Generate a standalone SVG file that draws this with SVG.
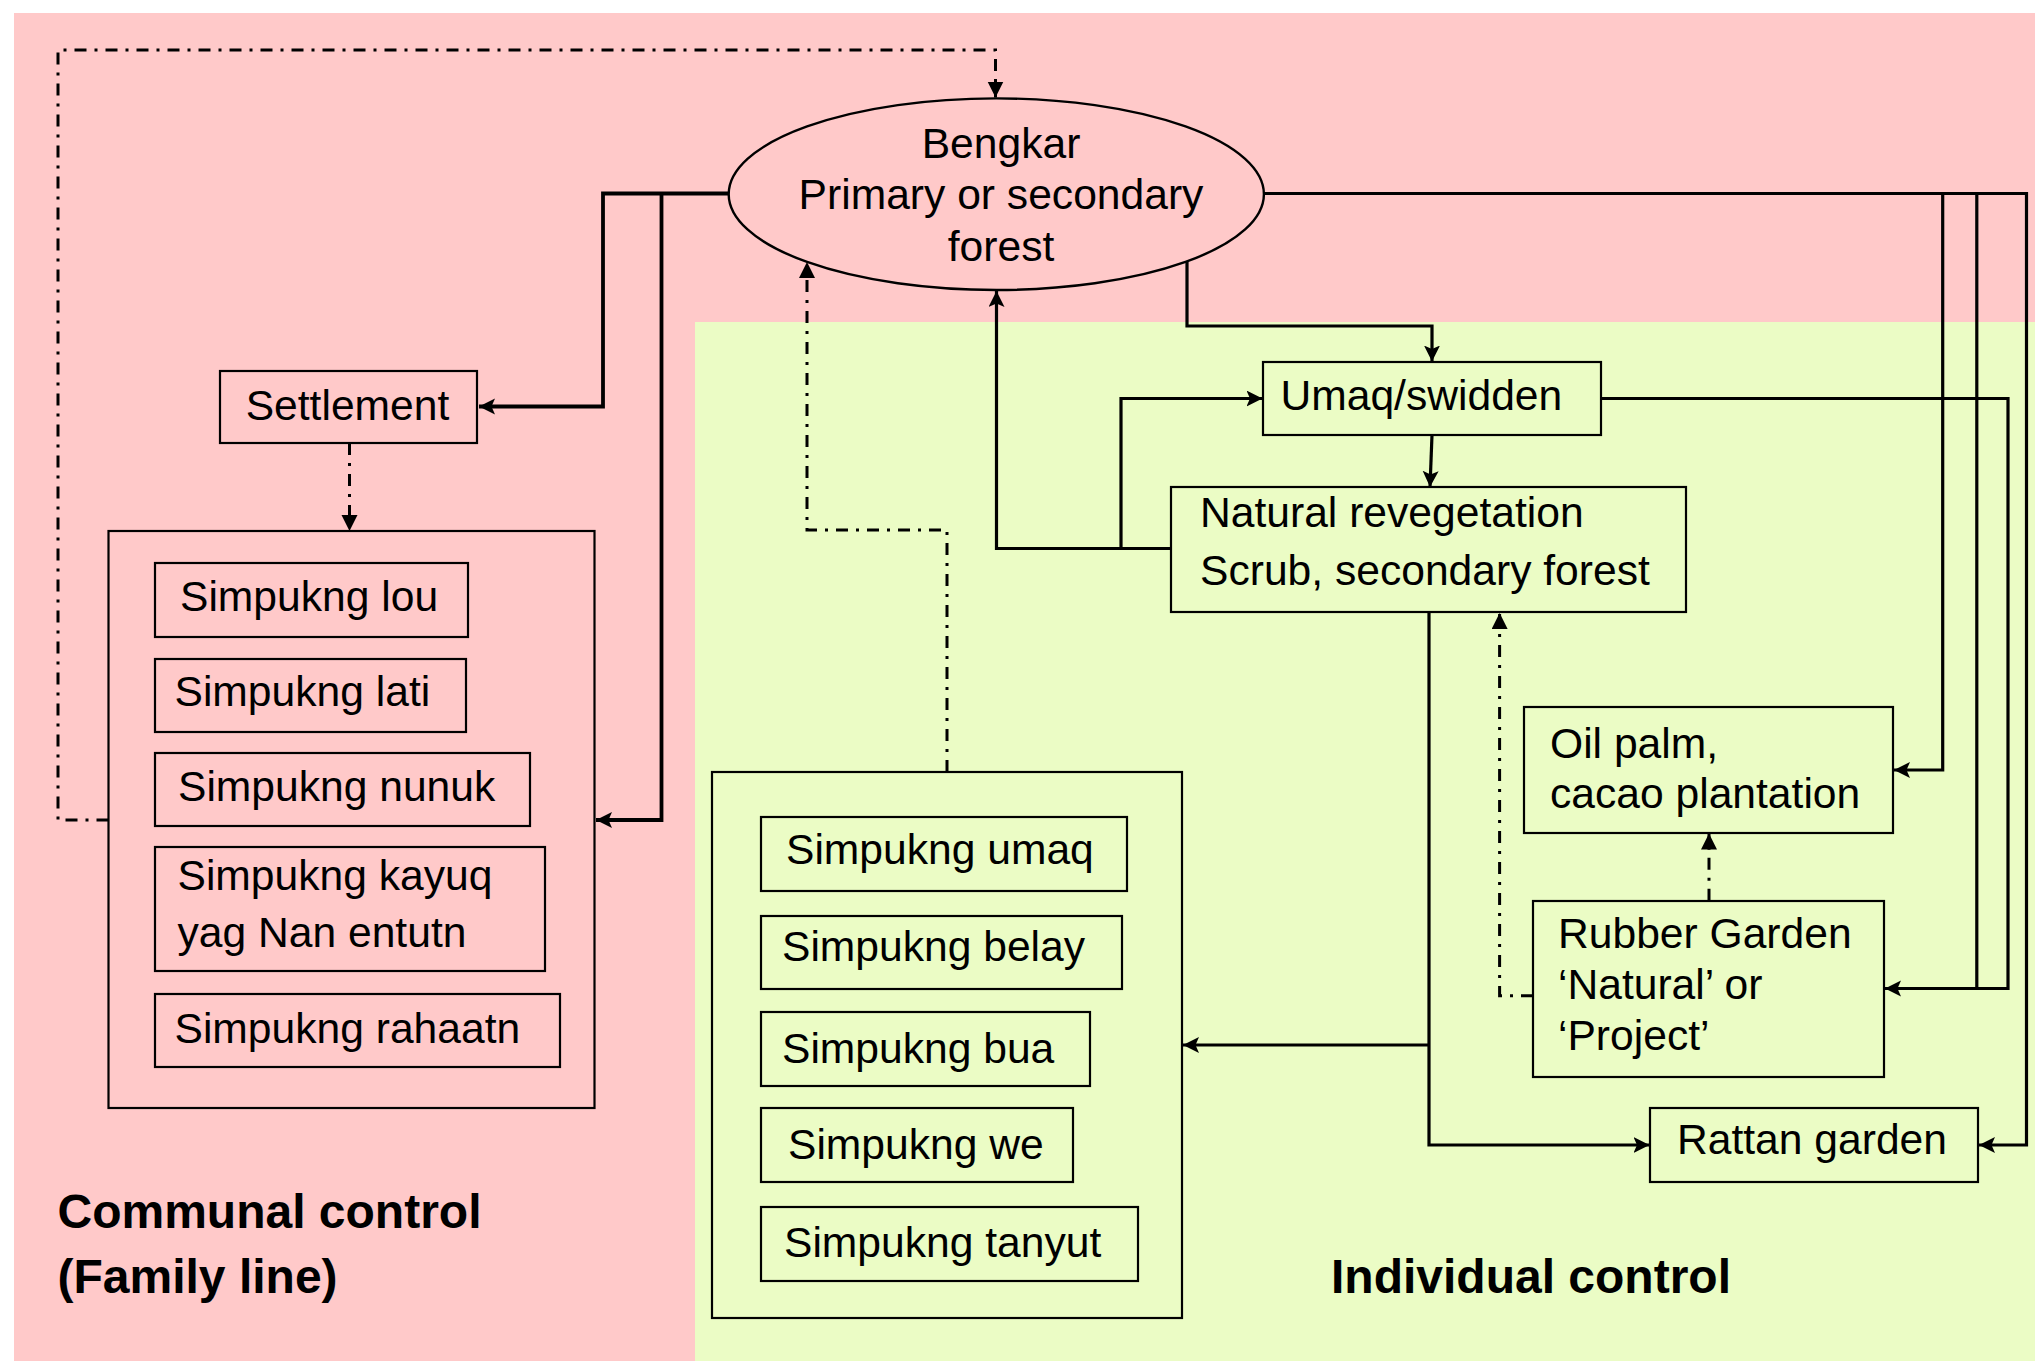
<svg xmlns="http://www.w3.org/2000/svg" width="2035" height="1361" viewBox="0 0 2035 1361">
<defs>
<style>
.bg-pink{fill:#FFC9C9}
.bg-green{fill:#EBFCC5}
.box{fill:none;stroke:#000;stroke-width:2.2}
.t{font-family:"Liberation Sans",Arial,Helvetica,sans-serif;font-size:42.6px;fill:#000}
.tb{font-family:"Liberation Sans",Arial,Helvetica,sans-serif;font-size:48px;font-weight:bold;fill:#000}
.c{fill:none;stroke:#000;stroke-width:3.2}
.c2{fill:none;stroke:#000;stroke-width:3.8}
.d{fill:none;stroke:#000;stroke-width:3;stroke-dasharray:12 8 3 8}
</style>
<marker id="arr" markerUnits="userSpaceOnUse" markerWidth="18" markerHeight="18" refX="16" refY="8" orient="auto">
<path d="M0,0 L16,8 L0,16 L3.5,8 z" fill="#000"/>
</marker>
<marker id="arrd" markerUnits="userSpaceOnUse" markerWidth="18" markerHeight="18" refX="16" refY="8" orient="auto">
<path d="M0,0 L16,8 L0,16 z" fill="#000"/>
</marker>
</defs>
<rect x="0" y="0" width="2035" height="1361" fill="#fff"/>
<rect class="bg-pink" x="14" y="13" width="2021" height="1348"/>
<rect class="bg-green" x="695" y="322" width="1340" height="1039"/>

<g id="connectors">
<path class="c2" d="M728.7,193.5 H603 V406.5 H479" marker-end="url(#arr)"/>
<path class="c2" d="M661.5,193.5 V820 H596" marker-end="url(#arr)"/>
<path class="d" d="M349.5,443 V531" marker-end="url(#arrd)"/>
<path class="d" d="M108.5,820 H58 V50 H995.5 V97.5" marker-end="url(#arrd)"/>
<path class="d" d="M947,772 V530 H807 V262" marker-end="url(#arrd)"/>
<path class="c" d="M1187,261.5 V326 H1432 V361.5" marker-end="url(#arr)"/>
<path class="c" d="M1432,435 L1430,487" marker-end="url(#arr)"/>
<path class="c" d="M1171,548.5 H996.5 V291" marker-end="url(#arr)"/>
<path class="c" d="M1121,548.5 V398.5 H1262.5" marker-end="url(#arr)"/>
<path class="c" d="M1264,193.5 H1942.7 V770 H1894" marker-end="url(#arr)"/>
<path class="c" d="M1976.8,193.5 V988.5"/>
<path class="c" d="M1600.7,398.5 H2008 V988.5 H1885" marker-end="url(#arr)"/>
<path class="c" d="M1942.7,193.5 H2026.5 V1145 H1979" marker-end="url(#arr)"/>
<path class="c" d="M1429,612 V1145 H1649.5" marker-end="url(#arr)"/>
<path class="c" d="M1429,1045 H1183" marker-end="url(#arr)"/>
<path class="d" d="M1709,900.7 V833.5" marker-end="url(#arrd)"/>
<path class="d" d="M1533,995.7 H1499.6 V613" marker-end="url(#arrd)"/>
</g>

<g id="bengkar">
<ellipse cx="996.3" cy="194.2" rx="267.6" ry="95.8" fill="none" stroke="#000" stroke-width="2.4"/>
<text class="t" x="1001" y="158" text-anchor="middle">Bengkar</text>
<text class="t" x="1001" y="209" text-anchor="middle">Primary or secondary</text>
<text class="t" x="1001" y="260.5" text-anchor="middle">forest</text>
</g>

<g id="settlement">
<rect class="box" x="220" y="371" width="257" height="72"/>
<text class="t" x="347.5" y="419.5" text-anchor="middle">Settlement</text>
</g>

<g id="communal-group">
<rect class="box" x="108.5" y="531" width="486" height="577"/>
</g>
<g id="simpukng-lou">
<rect class="box" x="155" y="563" width="313" height="74"/>
<text class="t" x="180" y="611">Simpukng lou</text>
</g>
<g id="simpukng-lati">
<rect class="box" x="155" y="659" width="311" height="73"/>
<text class="t" x="174.5" y="706">Simpukng lati</text>
</g>
<g id="simpukng-nunuk">
<rect class="box" x="155" y="753" width="375" height="73"/>
<text class="t" x="178" y="800.5">Simpukng nunuk</text>
</g>
<g id="simpukng-kayuq">
<rect class="box" x="155" y="847" width="390" height="124"/>
<text class="t" x="177.5" y="890">Simpukng kayuq</text>
<text class="t" x="177.5" y="947">yag Nan entutn</text>
</g>
<g id="simpukng-rahaatn">
<rect class="box" x="155" y="994" width="405" height="73"/>
<text class="t" x="174.5" y="1043">Simpukng rahaatn</text>
</g>

<g id="individual-group">
<rect class="box" x="712" y="772" width="470" height="546"/>
</g>
<g id="simpukng-umaq">
<rect class="box" x="761" y="817" width="366" height="74"/>
<text class="t" x="786" y="864">Simpukng umaq</text>
</g>
<g id="simpukng-belay">
<rect class="box" x="761" y="916" width="361" height="73"/>
<text class="t" x="782" y="961">Simpukng belay</text>
</g>
<g id="simpukng-bua">
<rect class="box" x="761" y="1012" width="329" height="74"/>
<text class="t" x="782" y="1063">Simpukng bua</text>
</g>
<g id="simpukng-we">
<rect class="box" x="761" y="1108" width="312" height="74"/>
<text class="t" x="788" y="1159">Simpukng we</text>
</g>
<g id="simpukng-tanyut">
<rect class="box" x="761" y="1207" width="377" height="74"/>
<text class="t" x="784" y="1257">Simpukng tanyut</text>
</g>

<g id="umaq-swidden">
<rect class="box" x="1263" y="362" width="338" height="73"/>
<text class="t" x="1280.5" y="410">Umaq/swidden</text>
</g>
<g id="natural-revegetation">
<rect class="box" x="1171" y="487" width="515" height="125"/>
<text class="t" x="1200" y="527">Natural revegetation</text>
<text class="t" x="1200" y="585">Scrub, secondary forest</text>
</g>
<g id="oil-palm">
<rect class="box" x="1524" y="707" width="369" height="126"/>
<text class="t" x="1550" y="758">Oil palm,</text>
<text class="t" x="1550" y="808">cacao plantation</text>
</g>
<g id="rubber-garden">
<rect class="box" x="1533" y="901" width="351" height="176"/>
<text class="t" x="1558" y="948">Rubber Garden</text>
<text class="t" x="1558" y="999">‘Natural’ or</text>
<text class="t" x="1558" y="1050">‘Project’</text>
</g>
<g id="rattan-garden">
<rect class="box" x="1650" y="1108" width="328" height="74"/>
<text class="t" x="1677" y="1153.5">Rattan garden</text>
</g>

<g id="labels">
<text class="tb" x="57.5" y="1228">Communal control</text>
<text class="tb" x="57.5" y="1293">(Family line)</text>
<text class="tb" x="1331" y="1293">Individual control</text>
</g>
</svg>
